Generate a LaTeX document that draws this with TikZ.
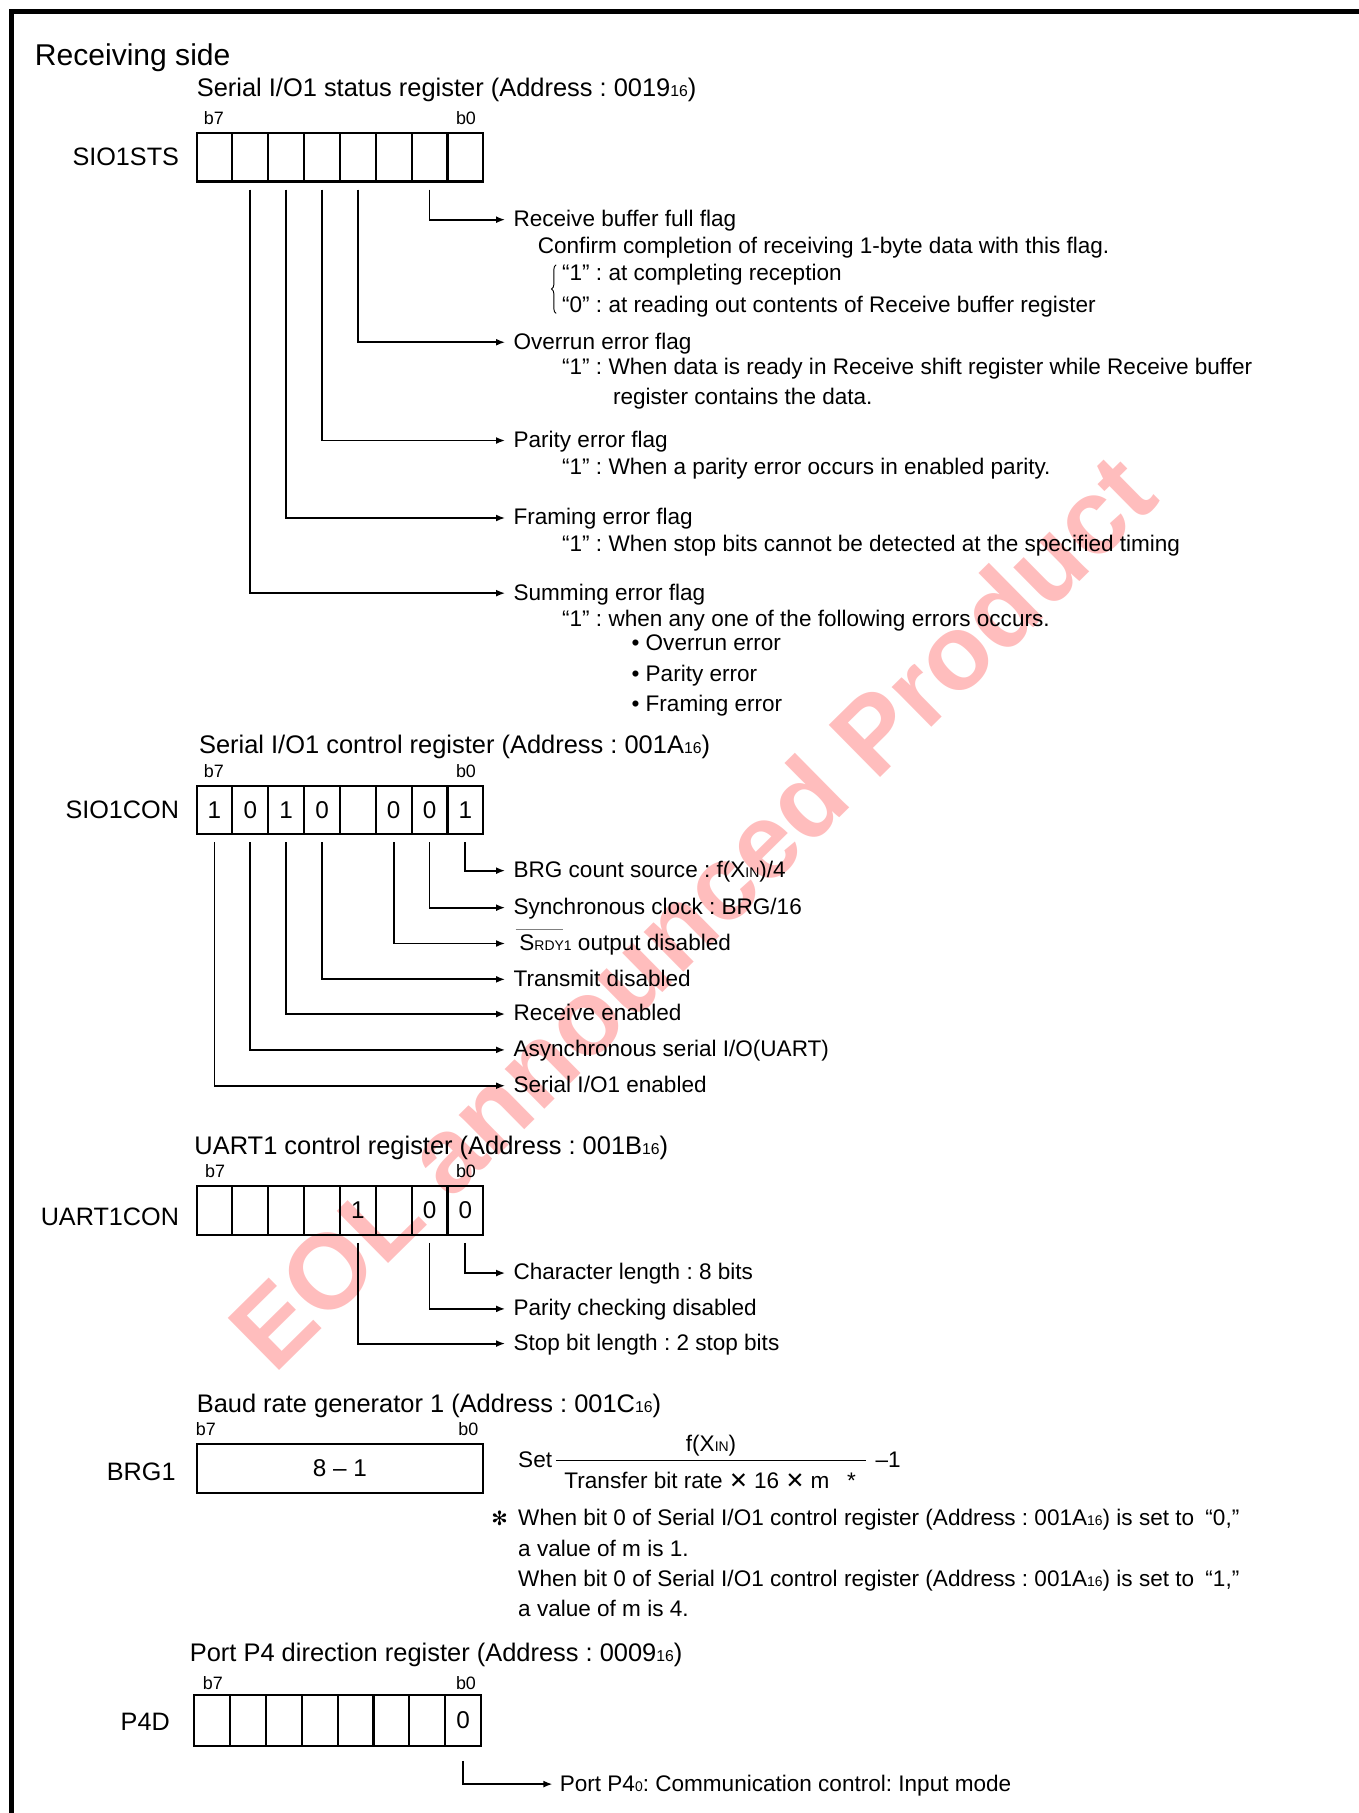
\documentclass[tikz,border=0pt]{standalone}
\usepackage{fontspec}
\setmainfont{Liberation Sans}
\newfontfamily\symfont{DejaVu Sans}
\usepackage{graphicx}
\usepackage{tikz}
\usetikzlibrary{arrows.meta,positioning,decorations.pathreplacing}

\newcommand{\hexsub}[1]{\scalebox{0.62}{#1}}
\frenchspacing

\begin{document}
\begin{tikzpicture}[
    x=1pt, y=-1pt,
    >={Latex[length=8pt,width=6pt]},
    cell/.style={draw, line width=1.8pt, minimum width=31pt, minimum height=42pt, inner sep=0pt, font=\fontsize{21}{21}\selectfont},
    regname/.style={anchor=east, inner sep=0pt, font=\fontsize{21.8}{24}\selectfont},
    bitno/.style={inner sep=0pt, font=\fontsize{15.5}{16}\selectfont},
    title/.style={anchor=west, inner sep=0pt, font=\fontsize{22}{26}\selectfont},
    lbl/.style={anchor=west, inner sep=0pt, text height=14pt, text depth=2pt, font=\fontsize{19.5}{23}\selectfont},
    flag/.style={lbl, inner xsep=7pt},
    conn/.style={->, line width=1.6pt}
]
    \useasboundingbox (0,0) rectangle (1175,1568);

    % Watermark
    \node[rotate=44.6, text=red!32, opacity=0.8, font=\fontsize{92}{92}\selectfont\bfseries] (wmark) at (598,788) {EOL announced Product};

    % Frame
    \draw[line width=4pt] (10,1568) -- (10,10) -- (1175,10);

    \node[anchor=west, inner sep=0pt, font=\fontsize{26}{30}\selectfont] (side) at (30,50) {Receiving side};

    % Status register
    \node[title] (ststitle) at (170,78) {Serial I/O1 status register (Address : 0019\hexsub{16})};
    \node[bitno] (stsb7) at (185,102) {b7};
    \node[bitno] (stsb0) at (403,102) {b0};
    \node[regname] (stsname) at (155,136) {SIO1STS};
    \foreach \k in {0,...,7} {
        \pgfmathtruncatemacro\bit{7-\k}
        \node[cell] (sts\bit) at ({185.5+31*\k},136) {};
    }

    \node[flag] (rbf) at (437,190) {Receive buffer full flag};
    \node[lbl] (rbfa) at (465,213) {Confirm completion of receiving 1-byte data with this flag.};
    \node[lbl] (rbfb) at (486,237) {“1” : at completing reception};
    \node[lbl] (rbfc) at (486,264) {“0” : at reading out contents of Receive buffer register};
    \draw[decorate, decoration={brace, amplitude=4pt}, line width=0.8pt]
        ([xshift=-5pt,yshift=-7pt]rbfc.west) -- ([xshift=-5pt,yshift=8pt]rbfb.west);

    \node[flag] (ovr) at (437,296) {Overrun error flag};
    \node[lbl] (ovra) at (486,318) {“1” : When data is ready in Receive shift register while Receive buffer};
    \node[lbl] (ovrb) at (530,344) {register contains the data.};

    \node[flag] (par) at (437,381) {Parity error flag};
    \node[lbl] (para) at (486,404) {“1” : When a parity error occurs in enabled parity.};

    \node[flag] (frm) at (437,448) {Framing error flag};
    \node[lbl] (frma) at (486,471) {“1” : When stop bits cannot be detected at the specified timing};

    \node[flag] (sum) at (437,513) {Summing error flag};
    \node[lbl] (suma) at (486,536) {“1” : when any one of the following errors occurs.};
    \node[lbl] (sumb) at (546,557) {• Overrun error};
    \node[lbl] (sumc) at (546,583) {• Parity error};
    \node[lbl] (sumd) at (546,609) {• Framing error};

    \foreach \b/\t in {1/rbf,3/ovr,4/par,5/frm,6/sum}
        \draw[conn] ([yshift=-6pt]sts\b.south) |- (\t.west);

    % Control register
    \node[title] (contitle) at (172,646) {Serial I/O1 control register (Address : 001A\hexsub{16})};
    \node[bitno] (conb7) at (185,667) {b7};
    \node[bitno] (conb0) at (403,667) {b0};
    \node[regname] (conname) at (155,700) {SIO1CON};
    \foreach \v [count=\k from 0] in {1,0,1,0,{},0,0,1} {
        \pgfmathtruncatemacro\bit{7-\k}
        \node[cell] (con\bit) at ({185.5+31*\k},700.5) {\v};
    }

    \node[flag] (brgsrc) at (437,753) {BRG count source : f(X\hexsub{IN})/4};
    \node[flag] (sync) at (437,785) {Synchronous clock : BRG/16};
    \node[flag] (srdy) at (437,816) {\hspace*{5pt}S\hexsub{RDY1} output disabled};
    \draw[gray, line width=1.2pt] ([xshift=9pt,yshift=12pt]srdy.west) -- ([xshift=50pt,yshift=12pt]srdy.west);
    \node[flag] (txd) at (437,847) {Transmit disabled};
    \node[flag] (rxd) at (437,877) {Receive enabled};
    \node[flag] (async) at (437,908) {Asynchronous serial I/O(UART)};
    \node[flag] (sioen) at (437,939) {Serial I/O1 enabled};

    \foreach \b/\t in {0/brgsrc,1/sync,2/srdy,4/txd,5/rxd,6/async,7/sioen}
        \draw[conn] ([yshift=-6pt]con\b.south) |- (\t.west);

    % UART1 control register
    \node[title] (uarttitle) at (168,993) {UART1 control register (Address : 001B\hexsub{16})};
    \node[bitno] (uartb7) at (186,1013) {b7};
    \node[bitno] (uartb0) at (403,1013) {b0};
    \node[regname] (uartname) at (155,1052) {UART1CON};
    \foreach \v [count=\k from 0] in {{},{},{},{},1,{},0,0} {
        \pgfmathtruncatemacro\bit{7-\k}
        \node[cell] (uart\bit) at ({185.5+31*\k},1047) {\v};
    }

    \node[flag] (chr) at (437,1101) {Character length : 8 bits};
    \node[flag] (parchk) at (437,1132) {Parity checking disabled};
    \node[flag] (stopb) at (437,1162) {Stop bit length : 2 stop bits};

    \foreach \b/\t in {0/chr,1/parchk,3/stopb}
        \draw[conn] ([yshift=-6pt]uart\b.south) |- (\t.west);

    % Baud rate generator
    \node[title] (brgtitle) at (170,1216) {Baud rate generator 1 (Address : 001C\hexsub{16})};
    \node[bitno] (brgb7) at (178,1236) {b7};
    \node[bitno] (brgb0) at (405,1236) {b0};
    \node[regname] (brgname) at (152,1273) {BRG1};
    \node[cell, minimum width=248pt] (brgbox) at (294,1270) {8 – 1};

    \node[lbl] (set) at (448,1263) {Set};
    \node[lbl, anchor=center] (num) at (615,1249) {f(X\hexsub{IN})};
    \node[lbl] (den) at (488,1281) {Transfer bit rate {\symfont ✕} 16 {\symfont ✕} m\enspace\ *};
    \node[lbl] (minus) at (757,1263) {–1};
    \draw[line width=0.8pt] ([xshift=3pt]set.east) -- ([xshift=-8pt]minus.west);

    \node[lbl, anchor=center, font=\symfont\fontsize{17}{17}\selectfont] (star) at (432,1313) {✻};
    \node[lbl] (nta) at (448,1313) {When bit 0 of Serial I/O1 control register (Address : 001A\hexsub{16}) is set to\enspace “0,”};
    \node[lbl] (ntb) at (448,1340) {a value of m is 1.};
    \node[lbl] (ntc) at (448,1366) {When bit 0 of Serial I/O1 control register (Address : 001A\hexsub{16}) is set to\enspace “1,”};
    \node[lbl] (ntd) at (448,1392) {a value of m is 4.};

    % Port P4 direction register
    \node[title] (p4title) at (164,1431) {Port P4 direction register (Address : 0009\hexsub{16})};
    \node[bitno] (p4b7) at (184,1456) {b7};
    \node[bitno] (p4b0) at (403,1456) {b0};
    \node[regname] (p4name) at (147,1489) {P4D};
    \foreach \v [count=\k from 0] in {{},{},{},{},{},{},{},0} {
        \pgfmathtruncatemacro\bit{7-\k}
        \node[cell, minimum height=44pt] (p4d\bit) at ({183.5+31*\k},1488) {\v};
    }

    \node[flag, inner xsep=6pt] (p40) at (478,1543) {Port P4\hexsub{0}: Communication control: Input mode};
    \draw[conn] ([yshift=-12pt]p4d0.south) |- (p40.west);
\end{tikzpicture}
\end{document}
